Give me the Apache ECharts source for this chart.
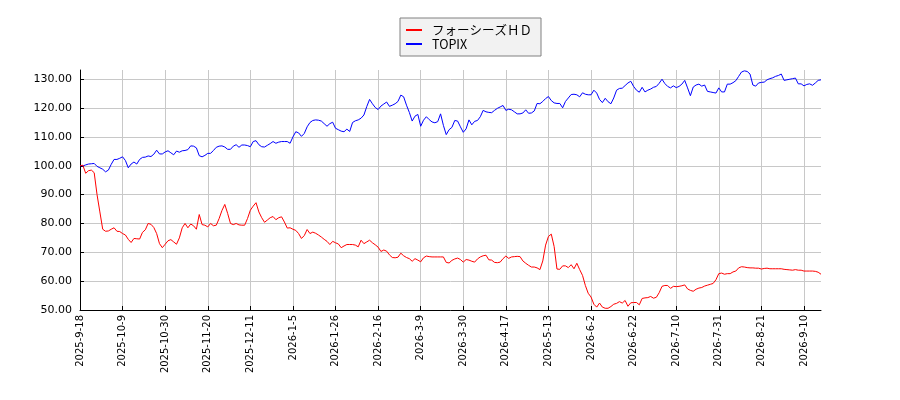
<!DOCTYPE html>
<html>
<head>
<meta charset="utf-8">
<script src="https://cdn.jsdelivr.net/npm/echarts@6/dist/echarts.min.js"></script>
<style>
  html, body { margin: 0; padding: 0; background: #fff; }
  #chart { width: 900px; height: 400px; }
</style>
</head>
<body>
<div id="chart"></div>
<script>
// tick labels, one every 15 trading days
const tickLabels = [
  '2025-9-18', '2025-10-9', '2025-10-30', '2025-11-20', '2025-12-11', '2026-1-5',
  '2026-1-26', '2026-2-16', '2026-3-9', '2026-3-30', '2026-4-17', '2026-5-13',
  '2026-6-2', '2026-6-22', '2026-7-10', '2026-7-31', '2026-8-21', '2026-9-10'
];
const tickStep = 15;

// フォーシーズＨＤ (rebased to 100)
const stockValues = [
  100.0, 100.2, 97.4, 98.3, 98.5, 97.6, 90.0, 84.0, 78.0, 77.3,
  77.4, 78.0, 78.5, 77.3, 77.2, 76.5, 76.0, 74.5, 73.4, 74.8,
  74.7, 74.6, 76.9, 77.8, 80.0, 79.7, 78.6, 76.5, 73.0, 71.6,
  72.8, 74.0, 74.4, 73.6, 72.8, 75.0, 78.5, 80.0, 78.5, 79.8,
  79.2, 78.0, 83.1, 79.6, 79.4, 78.8, 80.0, 79.2, 79.4, 81.7,
  84.5, 86.6, 83.5, 80.0, 79.6, 80.0, 79.5, 79.4, 79.4, 81.7,
  84.6, 86.0, 87.2, 84.0, 82.0, 80.4, 81.2, 82.0, 82.4, 81.3,
  82.0, 82.3, 80.5, 78.4, 78.5, 78.0, 77.6, 76.5, 74.8, 75.8,
  77.9, 76.5, 77.0, 76.6, 76.0, 75.3, 74.5, 73.8, 72.7, 73.8,
  73.3, 72.9, 71.6, 72.2, 72.7, 72.7, 72.7, 72.5, 71.9, 74.2,
  73.0, 73.6, 74.2, 73.3, 72.6, 71.8, 70.3, 70.8, 70.4, 69.1,
  68.2, 68.1, 68.3, 69.7, 68.8, 68.2, 67.8, 66.9, 67.8, 67.3,
  66.7, 68.1, 68.7, 68.5, 68.4, 68.4, 68.4, 68.4, 68.4, 66.5,
  66.3, 67.2, 67.7, 68.0, 67.5, 66.6, 67.5, 67.3, 66.9, 66.6,
  67.7, 68.4, 68.8, 69.0, 67.4, 67.3, 66.5, 66.4, 66.6, 67.8,
  68.7, 67.9, 68.4, 68.5, 68.6, 68.5, 67.0, 66.2, 65.5, 64.9,
  64.9, 64.6, 64.0, 67.0, 72.5, 75.5, 76.3, 72.0, 64.2, 64.1,
  65.3, 65.3, 64.7, 65.7, 64.3, 66.2, 64.0, 62.0, 58.5, 55.8,
  54.5, 52.0, 51.0, 52.4, 51.0, 50.6, 50.6, 51.2, 52.0, 52.3,
  52.9, 52.4, 53.3, 51.3, 52.5, 52.6, 52.6, 51.8, 54.0, 54.2,
  54.3, 54.7, 54.1, 54.4, 56.0, 58.2, 58.5, 58.5, 57.5, 58.2,
  58.1, 58.2, 58.4, 58.7, 57.3, 56.8, 56.5, 57.2, 57.6, 57.8,
  58.3, 58.6, 58.9, 59.2, 60.5, 62.6, 62.8, 62.4, 62.6, 62.6,
  63.2, 63.5, 64.6, 65.0, 64.9, 64.7, 64.6, 64.6, 64.5, 64.5,
  64.2, 64.4, 64.5, 64.3, 64.3, 64.3, 64.3, 64.3, 64.1, 64.0,
  63.9, 63.8, 64.0, 63.8, 63.8, 63.5, 63.5, 63.5, 63.5, 63.4,
  63.1, 62.4
];

// TOPIX (rebased to 100)
const topixValues = [
  100.1, 99.9, 100.3, 100.6, 100.7, 100.8, 99.8, 99.3, 98.8, 97.9,
  98.5, 100.5, 102.2, 102.2, 102.6, 103.1, 101.8, 99.3, 100.6, 101.3,
  100.6, 102.2, 102.9, 103.0, 103.4, 103.2, 104.0, 105.4, 104.1, 104.1,
  104.8, 105.2, 104.5, 103.8, 105.1, 104.7, 105.2, 105.3, 105.6, 106.9,
  106.8, 106.2, 103.5, 103.1, 103.6, 104.3, 104.3, 105.3, 106.4, 106.8,
  106.9, 106.5, 105.7, 105.7, 106.8, 107.3, 106.4, 107.2, 107.2, 107.0,
  106.6, 108.4, 108.7, 107.3, 106.6, 106.5, 107.1, 107.7, 108.4, 107.8,
  108.2, 108.4, 108.4, 108.4, 107.8, 110.0, 111.8, 111.4, 110.2, 111.2,
  113.5, 115.0, 115.7, 115.9, 115.8, 115.5, 114.6, 113.7, 114.6, 115.1,
  113.0, 112.5, 112.0, 111.8, 112.7, 111.9, 115.0, 115.6, 115.9, 116.5,
  117.6, 120.5, 123.0, 121.5, 120.2, 119.5, 120.7, 121.4, 122.1, 120.6,
  121.0, 121.5, 122.3, 124.5, 123.9, 121.0, 118.5, 115.5, 117.2, 117.8,
  113.7, 115.8, 117.0, 116.0, 115.2, 114.9, 115.3, 118.0, 114.0, 110.8,
  112.5, 113.3, 115.7, 115.5, 113.5, 111.6, 112.8, 115.9, 114.2, 115.4,
  115.7, 117.0, 119.2, 118.7, 118.5, 118.4, 119.2, 119.9, 120.4, 120.9,
  119.2, 119.6, 119.4, 118.7, 118.0, 118.0, 118.3, 119.4, 118.2, 118.3,
  119.0, 121.6, 121.5, 122.3, 123.3, 124.0, 122.6, 121.8, 121.6, 121.6,
  120.1, 122.3, 123.5, 124.7, 124.8, 124.6, 123.9, 125.3, 124.8, 124.6,
  124.6, 126.2, 125.2, 123.0, 121.9, 123.4, 122.2, 121.5, 123.5, 126.2,
  126.8, 126.9, 127.8, 128.7, 129.3, 127.5, 126.2, 125.5, 127.2, 125.6,
  126.2, 126.6, 127.2, 127.5, 128.6, 130.0, 128.5, 127.5, 127.0, 127.7,
  127.1, 127.5, 128.3, 129.6, 127.0, 124.3, 127.3, 128.0, 128.3, 127.6,
  128.0, 125.8, 125.6, 125.4, 125.2, 127.0, 125.6, 125.6, 128.3, 128.3,
  128.8, 129.5, 131.0, 132.5, 132.9, 132.7, 131.8, 128.0, 127.6, 128.7,
  128.9, 129.0, 129.8, 130.2, 130.5, 131.0, 131.3, 131.8, 129.6, 129.8,
  130.0, 130.2, 130.4, 128.4, 128.4, 127.7, 128.2, 128.4, 127.9, 128.7,
  129.6, 129.8
];

const yTicks = [50, 60, 70, 80, 90, 100, 110, 120, 130];

const categories = stockValues.map((_, i) => i);
const gridColor = '#c8c8c8';

const chart = echarts.init(document.getElementById('chart'), null, { renderer: 'canvas' });

chart.setOption({
  animation: false,
  backgroundColor: '#ffffff',
  textStyle: { fontFamily: 'DejaVu Sans' },
  grid: { left: 80, right: 79, top: 70, bottom: 90, containLabel: false },
  legend: {
    orient: 'vertical',
    left: 400,
    top: 18,
    padding: [5, 9, 5, 6],
    itemGap: 0,
    itemWidth: 16,
    itemHeight: 2,
    icon: 'rect',
    backgroundColor: '#f2f2f2',
    borderColor: '#808080',
    borderWidth: 1,
    borderRadius: 0,
    textStyle: {
      fontFamily: 'Noto Sans CJK JP',
      fontSize: 12.5,
      color: '#000',
      lineHeight: 14,
      padding: [0, 0, 0, 5]
    },
    data: ['フォーシーズＨＤ', 'TOPIX']
  },
  xAxis: {
    type: 'category',
    data: categories,
    boundaryGap: false,
    axisLine: { lineStyle: { color: '#000', width: 1 } },
    axisTick: { inside: true, length: 4, interval: tickStep - 1, lineStyle: { color: '#000' } },
    splitLine: { show: true, interval: tickStep - 1, lineStyle: { color: gridColor, width: 1 } },
    axisLabel: {
      interval: tickStep - 1,
      rotate: 90,
      margin: 5,
      fontSize: 10,
      color: '#000',
      fontFamily: 'DejaVu Sans',
      formatter: (v, i) => (i % tickStep === 0 ? tickLabels[i / tickStep] : '')
    }
  },
  yAxis: {
    type: 'value',
    min: 50,
    max: 133.2,
    interval: 10,
    axisLine: { show: true, lineStyle: { color: '#000', width: 1 } },
    axisTick: { show: true, inside: true, length: 4, customValues: yTicks, lineStyle: { color: '#000' } },
    splitLine: { show: true, lineStyle: { color: gridColor, width: 1 } },
    axisLabel: {
      customValues: yTicks,
      margin: 8,
      fontSize: 11,
      color: '#000',
      fontFamily: 'DejaVu Sans',
      formatter: v => v.toFixed(2)
    }
  },
  series: [
    {
      name: 'フォーシーズＨＤ',
      type: 'line',
      data: stockValues,
      symbol: 'none',
      lineStyle: { color: '#ff0000', width: 1 },
      itemStyle: { color: '#ff0000' },
      z: 3
    },
    {
      name: 'TOPIX',
      type: 'line',
      data: topixValues,
      symbol: 'none',
      lineStyle: { color: '#0000ff', width: 1 },
      itemStyle: { color: '#0000ff' },
      z: 2
    }
  ]
});
</script>
</body>
</html>
